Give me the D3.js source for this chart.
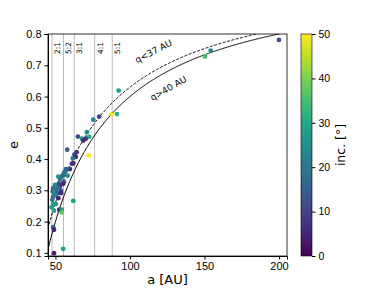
<!DOCTYPE html>
<html>
<head>
<meta charset="utf-8">
<script src="https://cdn.jsdelivr.net/npm/d3@7"></script>
<style>
  body { margin: 0; background: #fff; }
  svg { font-family: "DejaVu Sans", sans-serif; }
  .axis path, .axis line { stroke: #000; }
  .axis text { font-size: 11px; fill: #000; }
  .cbar text { font-size: 10.5px; }
</style>
</head>
<body>
<div id="chart"></div>
<script>
// semi-major axis [AU], eccentricity, inclination [deg]
var aValues = [
  92.4, 91.3, 87.5, 79.4, 75.4, 72.3, 72.7, 71.1, 65.1, 67.8,
  70.3, 68.7, 57.9, 64.2, 62.8, 63.6, 61.7, 62.0, 59.7, 57.0,
  58.0, 55.2, 58.2, 54.2, 51.9, 53.0, 55.7, 55.2, 53.0, 49.7,
  51.9, 48.5, 53.7, 48.1, 49.7, 51.2, 48.5, 50.0, 51.9, 53.7,
  62.0, 48.5, 50.3, 47.4, 49.0, 52.6, 54.2, 54.2, 48.5, 49.0,
  55.2, 49.0, 200.0, 154.2, 150.3, 61.1, 56.0, 50.8, 52.4, 47.9
];
var eValues = [
  0.619, 0.544, 0.543, 0.536, 0.526, 0.412, 0.471, 0.486, 0.472, 0.465,
  0.465, 0.459, 0.430, 0.422, 0.415, 0.407, 0.403, 0.387, 0.368, 0.368,
  0.368, 0.350, 0.347, 0.344, 0.344, 0.336, 0.328, 0.321, 0.314, 0.317,
  0.312, 0.307, 0.299, 0.296, 0.291, 0.291, 0.280, 0.285, 0.275, 0.291,
  0.266, 0.257, 0.256, 0.246, 0.235, 0.238, 0.238, 0.229, 0.182, 0.174,
  0.113, 0.099, 0.781, 0.747, 0.728, 0.385, 0.358, 0.303, 0.322, 0.270
];
var incValues = [
  28, 32, 48, 10, 23, 50, 30, 25, 12, 25,
  8, 6, 15, 8, 10, 5, 20, 6, 6, 18,
  14, 16, 25, 17, 26, 20, 15, 5, 4, 26,
  17, 19, 12, 18, 27, 14, 17, 22, 5, 6,
  28, 28, 27, 28, 30, 5, 28, 38, 17, 5,
  28, 4, 12, 22, 35, 8, 20, 18, 10, 19
];

var resNames = ["2:1", "5:2", "3:1", "4:1", "5:1"];
var resA = [47.7, 55.4, 62.6, 76.3, 88.1];

var qValues = [37, 40];
var qLabels = ["q<37 AU", "q>40 AU"];

var xTicks = [50, 100, 150, 200];
var yTicks = [0.1, 0.2, 0.3, 0.4, 0.5, 0.6, 0.7, 0.8];
var cTicks = [0, 10, 20, 30, 40, 50];

var W = 384, H = 288;
var margin = {top: 34, left: 48, right: 97, bottom: 32};
var width = W - margin.left - margin.right,
    height = H - margin.top - margin.bottom;

var x = d3.scaleLinear().domain([45, 205.4]).range([0, width]);
var y = d3.scaleLinear().domain([0.09, 0.8]).range([height, 0]);
var color = d3.scaleSequential(d3.interpolateViridis).domain([0, 50]);

var svg = d3.select("#chart").append("svg")
  .attr("width", W)
  .attr("height", H);

var g = svg.append("g")
  .attr("transform", "translate(" + margin.left + "," + margin.top + ")");

// resonance lines
g.selectAll(".res")
  .data(resA)
  .enter().append("line")
  .attr("x1", d => x(d)).attr("x2", d => x(d))
  .attr("y1", 0).attr("y2", height)
  .attr("stroke", "#bbb")
  .attr("stroke-width", 1);

g.selectAll(".reslabel")
  .data(resNames)
  .enter().append("text")
  .attr("transform", (d, i) => "translate(" + (x(resA[i]) + 8) + ",8) rotate(-90)")
  .attr("text-anchor", "end")
  .style("font-size", "7.5px")
  .text(d => d);

// perihelion curves e = 1 - q/a
var curveA = d3.range(x.domain()[0], x.domain()[1] + 0.5, 0.5);
var line = d3.line()
  .x(d => x(d[0]))
  .y(d => y(d[1]));

g.append("clipPath").attr("id", "clip")
  .append("rect").attr("width", width).attr("height", height);

qValues.forEach(function(q, i) {
  g.append("path")
    .datum(curveA.map(a => [a, 1 - q / a]))
    .attr("clip-path", "url(#clip)")
    .attr("fill", "none")
    .attr("stroke", "#000")
    .attr("stroke-width", 1)
    .attr("stroke-dasharray", i == 0 ? "3,1.5" : null)
    .attr("d", line);
});

g.append("text")
  .attr("transform", "translate(107,20) rotate(-27)")
  .attr("text-anchor", "middle")
  .style("font-size", "9px")
  .text(qLabels[0]);

g.append("text")
  .attr("transform", "translate(122,57) rotate(-30)")
  .attr("text-anchor", "middle")
  .style("font-size", "9px")
  .text(qLabels[1]);

// points
g.selectAll(".dot")
  .data(aValues)
  .enter().append("circle")
  .attr("cx", d => x(d))
  .attr("cy", (d, i) => y(eValues[i]))
  .attr("r", 2.4)
  .attr("fill", (d, i) => color(incValues[i]));

// axes
g.append("g")
  .attr("class", "axis")
  .attr("transform", "translate(0," + height + ")")
  .call(d3.axisBottom(x).tickValues(xTicks).tickSize(3.5).tickPadding(3));

g.append("g")
  .attr("class", "axis")
  .call(d3.axisLeft(y).tickValues(yTicks).tickFormat(d3.format(".1f")).tickSize(3.5).tickPadding(3));

g.append("rect")
  .attr("width", width).attr("height", height)
  .attr("fill", "none").attr("stroke", "#000").attr("stroke-width", 0.8);

g.append("text")
  .attr("x", width / 2).attr("y", height + 28)
  .attr("text-anchor", "middle")
  .style("font-size", "13px")
  .text("a [AU]");

g.append("text")
  .attr("transform", "translate(-30," + (height / 2) + ") rotate(-90)")
  .attr("text-anchor", "middle")
  .style("font-size", "13px")
  .text("e");

// colorbar
var cbX = 301, cbW = 11;
var cy = d3.scaleLinear().domain([0, 50]).range([margin.top + height, margin.top]);

var grad = svg.append("defs").append("linearGradient")
  .attr("id", "viridis")
  .attr("x1", "0").attr("y1", "1").attr("x2", "0").attr("y2", "0");
d3.range(0, 1.01, 0.1).forEach(function(t) {
  grad.append("stop")
    .attr("offset", t)
    .attr("stop-color", d3.interpolateViridis(t));
});

svg.append("rect")
  .attr("x", cbX).attr("y", margin.top)
  .attr("width", cbW).attr("height", height)
  .attr("fill", "url(#viridis)")
  .attr("stroke", "#000").attr("stroke-width", 0.6);

svg.append("g")
  .attr("class", "axis cbar")
  .attr("transform", "translate(" + (cbX + cbW) + ",0)")
  .call(d3.axisRight(cy).tickValues(cTicks).tickSize(3.5).tickPadding(3))
  .select(".domain").remove();

svg.append("text")
  .attr("transform", "translate(345," + (margin.top + height / 2) + ") rotate(-90)")
  .attr("text-anchor", "middle")
  .style("font-size", "12.5px")
  .text("inc. [°]");
</script>
</body>
</html>
